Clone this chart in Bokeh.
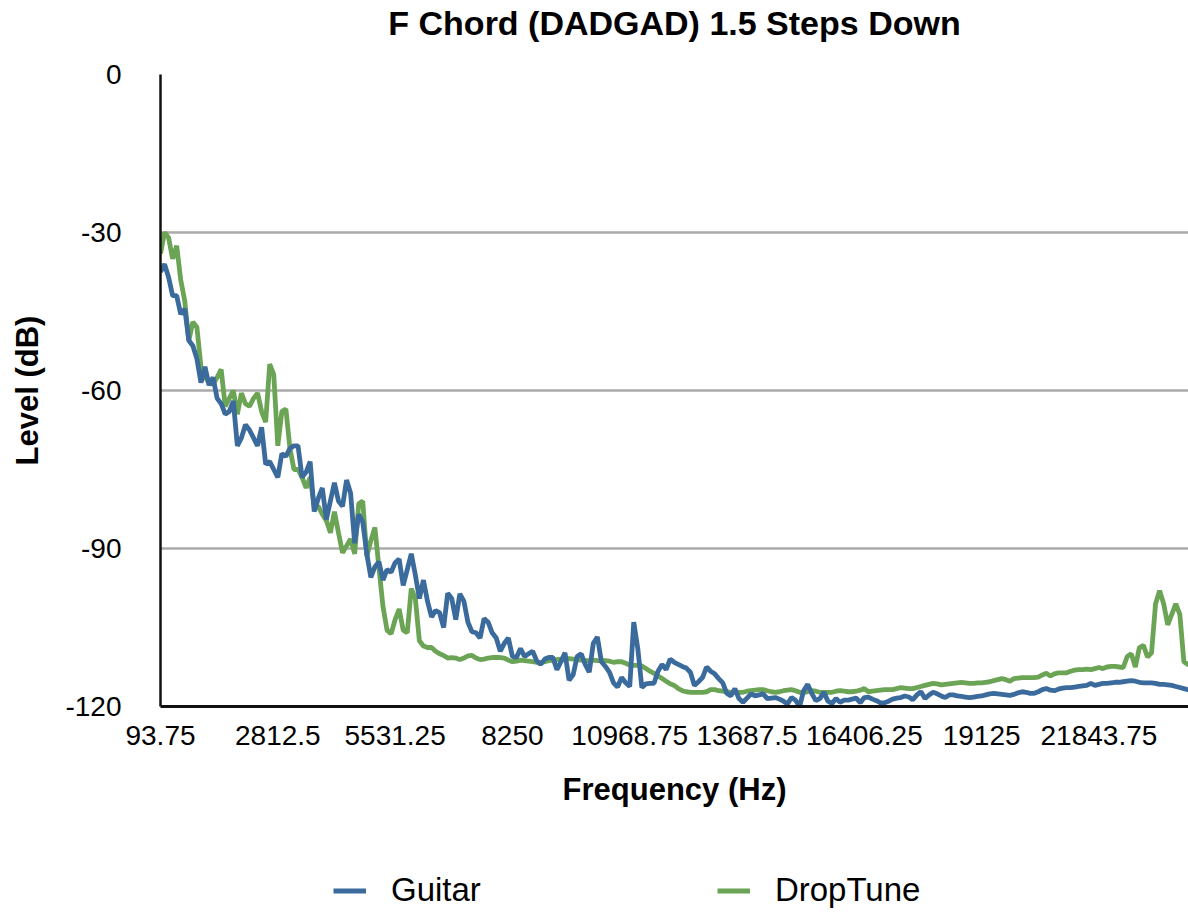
from bokeh.plotting import figure
from bokeh.layouts import column
from bokeh.models import (Range1d, FixedTicker, CustomJSTickFormatter, Legend,
                          LegendItem, ColumnDataSource, LinearAxis)
from bokeh.embed import file_html
from bokeh.resources import INLINE

# ---------------- data ----------------
BIN_HZ = 93.75  # FFT bin width; categories are 93.75, 187.5, ... Hz

guitar = [
    -37.5, -36, -38.5, -42, -42, -45.5, -44.5, -50.5, -51.5, -54,
    -58.5, -55.5, -59, -57.5, -61.5, -62.5, -64.5, -64, -62, -70.5,
    -69, -66.5, -67.5, -69, -70.5, -67, -74, -73.5, -75, -76.5,
    -72, -72.5, -71, -70.5, -70.5, -76.5, -75.5, -73.5, -83, -80.5,
    -78.5, -84.5, -81, -77.5, -81, -82, -77, -79.5, -89, -83.5,
    -85, -91, -95.5, -93.5, -92.5, -96, -94, -94.5, -92.7, -92,
    -97, -94, -91, -95, -99.5, -96, -100, -103, -101.8, -102.2,
    -105, -98.5, -99.5, -103.5, -98.6, -100, -104, -105.8, -106, -107,
    -103.3, -104, -106, -107, -109.5, -108, -107, -110.5, -110.7, -109,
    -110.5, -110, -109.5, -111.3, -112, -111, -110.7, -110.7, -113, -111.5,
    -109.8, -115, -114, -110.5, -110, -112, -113.5, -108, -106.8, -111.5,
    -112.4, -113.5, -115.5, -116.3, -114.5, -115.5, -116.2, -104, -109, -116.4,
    -115.7, -115.6, -115.6, -113.3, -112, -113, -111, -111.6, -112, -112.4,
    -112.7, -113.5, -116, -115.3, -114.5, -112.5, -113.3, -113.8, -114.7, -115.5,
    -117.5, -118, -116.6, -118.5, -119.2, -118.4, -117.6, -118, -117.8, -117.6,
    -118.5, -118.4, -118.3, -118.6, -119, -119.5, -118.3, -118.8, -120, -117,
    -115.8, -117.5, -118.9, -118.5, -117.3, -119, -119.4, -118.5, -119.2, -118.8,
    -118.8, -118.6, -118.4, -119.3, -118.3, -118.2, -118.6, -118.9, -119.3, -119.3,
    -119, -118.6, -118.4, -118.3, -118, -118.2, -118.7, -117.8, -117.2, -118.5,
    -117.8, -117.3, -117.6, -118, -118.3, -117.8, -117.8, -118, -118.1, -118.2,
    -118.3, -118.2, -118.1, -118, -117.8, -117.6, -117.5, -117.6, -117.7, -117.8,
    -117.9, -117.7, -117.4, -117.2, -117.3, -117.5, -117.5, -117.2, -116.8, -116.6,
    -116.9, -117, -116.7, -116.5, -116.4, -116.4, -116.3, -116.2, -116.1, -116,
    -115.6, -116, -115.8, -115.6, -115.6, -115.5, -115.4, -115.4, -115.3, -115.2,
    -115.1, -115.2, -115.4, -115.5, -115.5, -115.5, -115.6, -115.8, -115.8, -115.9,
    -116, -116.2, -116.4, -116.6, -116.8, -117,
]

droptune = [
    -34, -30, -31, -35, -32.5, -39, -43, -50.5, -47, -48,
    -55.5, -57.5, -58.5, -58.8, -57.5, -56, -63, -61.5, -60, -64.5,
    -60.5, -62.5, -63, -61.5, -60.5, -64, -66, -55, -57, -70.5,
    -64, -63.5, -71, -75, -75, -76.5, -78.5, -76.5, -82, -82,
    -83.5, -84.7, -87, -83, -87, -90.8, -89.5, -88.2, -91, -81.5,
    -81, -91.5, -88.5, -86, -93.6, -101, -105.5, -106.2, -103.5, -101.5,
    -105.5, -106, -97.6, -99.5, -107.5, -108.5, -108.8, -108.8, -109.5, -110,
    -110.3, -110.8, -110.7, -110.8, -111.1, -110.8, -110.4, -110.3, -110.8, -111.1,
    -111, -110.8, -110.7, -110.7, -110.7, -110.8, -111.2, -111.5, -111.4, -111.2,
    -111.3, -111.4, -111.5, -111.6, -111.7, -111.5, -111.3, -111.2, -111.1, -111,
    -110.9, -110.9, -111, -111.1, -111.2, -111.3, -111.3, -111.2, -111.3, -111.3,
    -111.3, -111.4, -111.6, -111.5, -111.5, -111.8, -112.1, -112.2, -112.2, -112.3,
    -112.8, -113.3, -113.7, -114.2, -114.7, -115.2, -115.7, -116, -116.6, -117,
    -117.2, -117.3, -117.3, -117.3, -117.3, -117.2, -116.8, -116.8, -117, -117.1,
    -117.2, -117.3, -117.3, -117.3, -117.3, -117.1, -117, -116.9, -116.8, -116.8,
    -117, -117.2, -117.3, -117.2, -117, -116.9, -116.8, -117, -117.3, -117.3,
    -117.2, -117, -117.1, -117.3, -117.3, -117.3, -117.3, -117.1, -117, -117.1,
    -117.2, -117.2, -117.1, -116.9, -116.6, -117.2, -117.1, -117, -116.9, -116.8,
    -116.8, -116.8, -116.6, -116.4, -116.5, -116.6, -116.6, -116.4, -116.2, -116,
    -115.8, -115.6, -115.7, -115.9, -115.8, -115.7, -115.6, -115.5, -115.4, -115.5,
    -115.6, -115.6, -115.5, -115.5, -115.4, -115.3, -115.1, -114.9, -114.7, -114.9,
    -115.2, -114.7, -114.6, -114.5, -114.5, -114.5, -114.5, -114.4, -114, -113.7,
    -114.2, -113.8, -113.6, -113.6, -113.6, -113.3, -113.1, -113, -113, -112.9,
    -113, -112.8, -112.6, -112.8, -112.5, -112.4, -112.4, -112.5, -112.6, -110.5,
    -110, -112.5, -108.8, -108.4, -110.6, -109.8, -100.5, -98, -100.5, -104.5,
    -102.5, -100.5, -102.5, -111.5, -112, -112.2,
]

freq = [BIN_HZ * (k + 1) for k in range(len(guitar))]

x_ticks = [93.75, 2812.5, 5531.25, 8250, 10968.75, 13687.5, 16406.25, 19125, 21843.75]
x_tick_labels = ["93.75", "2812.5", "5531.25", "8250", "10968.75", "13687.5",
                 "16406.25", "19125", "21843.75"]
y_ticks = [-120, -90, -60, -30, 0]

title_text = "F Chord (DADGAD) 1.5 Steps Down"
series_names = ["Guitar", "DropTune"]
BLUE = "#3b6b9d"
GREEN = "#6ba455"
FONT = "Liberation Sans"
LW = 4.8

# ---------------- main figure ----------------
src = ColumnDataSource(dict(freq=freq, guitar=guitar, droptune=droptune))

p = figure(width=1188, height=853, output_backend="svg", toolbar_location=None,
           title=None,
           x_range=Range1d(93.75, 23919.5), y_range=Range1d(-120, 0),
           min_border_left=160, min_border_right=0, min_border_top=73,
           min_border_bottom=147)
xa = p.below[0]
ya = p.left[0]

p.outline_line_color = None
p.background_fill_color = "white"
p.border_fill_color = "white"

p.line("freq", "droptune", source=src, line_color=GREEN, line_width=LW)
p.line("freq", "guitar", source=src, line_color=BLUE, line_width=LW)

# title drawn as the label of a bare axis above the frame
top_axis = LinearAxis(ticker=FixedTicker(ticks=[]), axis_line_color=None,
                      major_tick_line_color=None, minor_tick_line_color=None,
                      major_tick_out=0, major_tick_in=0, minor_tick_out=0,
                      minor_tick_in=0, major_label_standoff=0,
                      major_label_text_font_size="0px")
top_axis.axis_label = title_text
top_axis.axis_label_text_font = FONT
top_axis.axis_label_text_font_size = "34px"
top_axis.axis_label_text_font_style = "bold"
top_axis.axis_label_text_color = "#000000"
top_axis.axis_label_standoff = 33
p.add_layout(top_axis, "above")

# x axis
xa.ticker = FixedTicker(ticks=x_ticks)
xa.formatter = CustomJSTickFormatter(args=dict(xt=x_ticks, xl=x_tick_labels), code="""
    const i = xt.indexOf(tick);
    return i >= 0 ? xl[i] : "";
""")
xa.axis_label = "Frequency (Hz)"
xa.axis_label_text_font = FONT
xa.axis_label_text_font_size = "31px"
xa.axis_label_text_font_style = "bold"
xa.axis_label_text_color = "#000000"
xa.axis_label_standoff = 24
xa.major_label_text_font = FONT
xa.major_label_text_font_size = "28px"
xa.major_label_text_color = "#000000"
xa.major_label_standoff = 19
xa.major_tick_out = 0
xa.major_tick_in = 0
xa.minor_tick_out = 0
xa.minor_tick_in = 0
xa.major_tick_line_color = None
xa.minor_tick_line_color = None
xa.axis_line_color = "#111111"
xa.axis_line_width = 3

# y axis
ya.ticker = FixedTicker(ticks=y_ticks)
ya.formatter = CustomJSTickFormatter(code="return tick.toString();")
ya.axis_label = "Level (dB)"
ya.axis_label_text_font = FONT
ya.axis_label_text_font_size = "31px"
ya.axis_label_text_font_style = "bold"
ya.axis_label_text_color = "#000000"
ya.axis_label_standoff = 17
ya.major_label_text_font = FONT
ya.major_label_text_font_size = "28px"
ya.major_label_text_color = "#000000"
ya.major_label_standoff = 39
ya.major_tick_out = 0
ya.major_tick_in = 0
ya.minor_tick_out = 0
ya.minor_tick_in = 0
ya.major_tick_line_color = None
ya.minor_tick_line_color = None
ya.axis_line_color = "#111111"
ya.axis_line_width = 2.5

p.xgrid.grid_line_color = None
p.ygrid.grid_line_color = "#ababab"
p.ygrid.grid_line_width = 2.5

# ---------------- legend strip ----------------
lg = figure(width=1188, height=60, output_backend="svg", toolbar_location=None,
            title=None, x_axis_location=None, y_axis_location=None,
            x_range=Range1d(93.75, 23919.5), y_range=Range1d(-120, 0),
            min_border=0, min_border_left=0, min_border_right=0,
            min_border_top=0, min_border_bottom=0)
lg.outline_line_color = None
lg.grid.visible = False
lg_gtr = lg.line("freq", "guitar", source=src, line_color=BLUE, line_width=LW,
                 visible=False)
lg_drop = lg.line("freq", "droptune", source=src, line_color=GREEN, line_width=LW,
                  visible=False)

legend = Legend(items=[LegendItem(label=series_names[0], renderers=[lg_gtr]),
                       LegendItem(label=series_names[1], renderers=[lg_drop])],
                orientation="horizontal", location=(173, 4))
legend.label_text_font = FONT
legend.label_text_font_size = "33px"
legend.label_text_color = "#000000"
legend.glyph_width = 33
legend.glyph_height = 37
legend.label_height = 37
legend.label_standoff = 25
legend.spacing = 236
legend.padding = 0
legend.margin = 0
legend.border_line_color = None
legend.background_fill_alpha = 0
legend.inactive_fill_alpha = 0
lg.add_layout(legend, "center")

layout = column(p, lg, spacing=0)
open("out.html", "w").write(file_html(layout, INLINE))
